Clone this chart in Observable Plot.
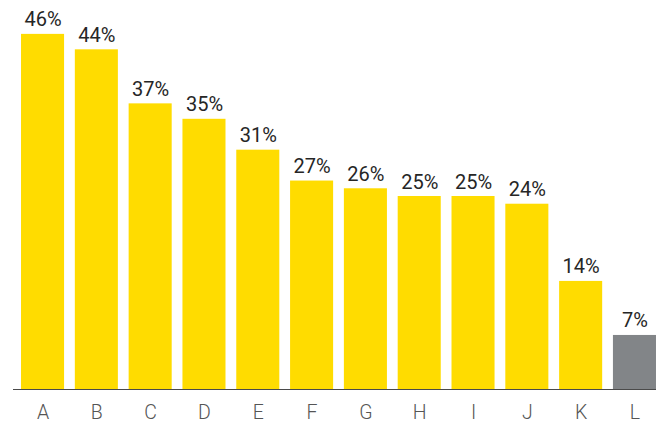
<!DOCTYPE html>
<html>
<head>
<meta charset="utf-8">
<script src="https://cdn.jsdelivr.net/npm/d3@7"></script>
<script src="https://cdn.jsdelivr.net/npm/@observablehq/plot@0.6"></script>
<style>
  html, body { margin: 0; padding: 0; background: #fff; }
  #chart svg { display: block; overflow: hidden; }
</style>
</head>
<body>
<div id="chart"></div>
<script>
const categories = ["A", "B", "C", "D", "E", "F", "G", "H", "I", "J", "K", "L"];
const values = [46, 44, 37, 35, 31, 27, 26, 25, 25, 24, 14, 7];
const otherCategory = "L";

const data = categories.map((c, i) => ({category: c, value: values[i]}));
const yellow = "#FFDC00";
const grey = "#828588";

const chart = Plot.plot({
  width: 656,
  height: 423,
  marginTop: 3,
  marginBottom: 34,
  marginLeft: 13,
  marginRight: 0,
  style: {fontFamily: "Roboto, sans-serif", background: "#fff"},
  x: {domain: categories, range: [13, 664], round: false, paddingInner: 0.2, paddingOuter: 0.149, label: null},
  y: {domain: [0, 50], axis: null},
  marks: [
    Plot.barY(data, {
      x: "category",
      y: "value",
      fill: d => d.category === otherCategory ? grey : yellow
    }),
    Plot.text(data, {
      x: "category",
      y: "value",
      text: d => `${d.value}%`,
      lineAnchor: "bottom",
      dy: -8,
      fontSize: 20,
      fill: "#262626"
    }),
    Plot.ruleY([0], {stroke: "#4a4a4a", strokeWidth: 1.2}),
    Plot.axisX({
      tickSize: 0,
      tickPadding: 16,
      fontSize: 19.5,
      fontWeight: 300,
      fill: "#555",
      label: null
    })
  ]
});
document.getElementById("chart").appendChild(chart);
</script>
</body>
</html>
